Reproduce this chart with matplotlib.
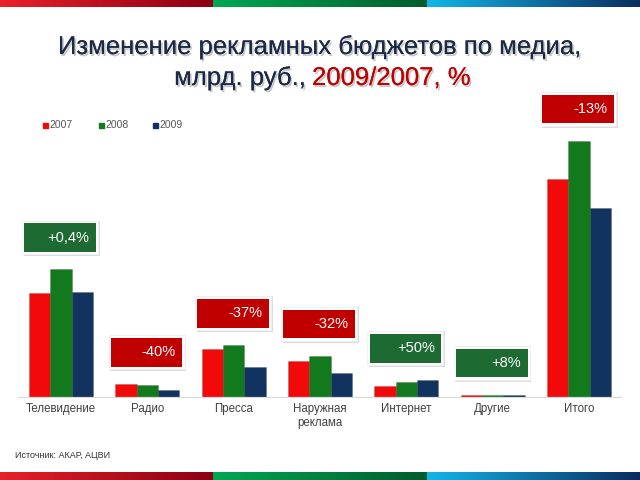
import matplotlib
matplotlib.use('Agg')
import matplotlib.pyplot as plt
import matplotlib.patheffects as pe
from matplotlib.patches import Rectangle
import numpy as np

plt.rcParams['font.family'] = ['Liberation Sans', 'DejaVu Sans']

# данные, млрд. руб.
categories = ['Телевидение', 'Радио', 'Пресса', 'Наружная\nреклама', 'Интернет', 'Другие', 'Итого']
years = ['2007', '2008', '2009']
v2007 = [120.5, 15.5, 55.4, 42.3, 13.2, 2.5, 251.3]
v2008 = [147.4, 14.4, 60.4, 48.1, 17.8, 3.2, 295.0]
v2009 = [121.0, 9.0, 34.6, 28.6, 20.0, 2.8, 217.5]
changes = ['+0,4%', '-40%', '-37%', '-32%', '+50%', '+8%', '-13%']

bar_colors = ['#f20a0a', '#127a1c', '#12335f']
box_red = '#c00000'
box_green = '#1d6a33'

fig = plt.figure(figsize=(6.4, 4.8), dpi=100)

# полосы сверху и снизу
def band(y0, h):
    segs = [('#e8202a', '#8a0012'), ('#00a852', '#005c2c'), ('#12b6ea', '#0b2b5c')]
    for i, (c1, c2) in enumerate(segs):
        bax = fig.add_axes([i / 3, y0, 1 / 3 + 0.002, h])
        grad = np.linspace(0, 1, 256).reshape(1, -1)
        cmap = matplotlib.colors.LinearSegmentedColormap.from_list('g', [c1, c2])
        bax.imshow(grad, aspect='auto', cmap=cmap, extent=[0, 1, 0, 1])
        bax.axis('off')

band(1 - 7 / 480, 7 / 480)
band(0, 8 / 480)

ax = fig.add_axes([18 / 640, 82.5 / 480, 604 / 640, 297.5 / 480])
x = np.arange(len(categories))
w = 0.247
for i, vals in enumerate([v2007, v2008, v2009]):
    ax.bar(x + (i - 1) * w, vals, w, color=bar_colors[i], edgecolor='#00000040', linewidth=0.4)

ax.axhline(0, color='#d9d9d9', lw=1.6)
ax.set_xlim(-0.5, 6.5)
ax.set_ylim(0, 342)
ax.set_yticks([])
ax.set_xticks(x)
ax.set_xticklabels(categories, fontsize=8.3, color='#404040', linespacing=1.25)
ax.tick_params(axis='x', length=0, pad=4)
for s in ax.spines.values():
    s.set_visible(False)

# плашки с изменениями
maxes = np.max([v2007, v2008, v2009], axis=0)
for xi, m, lab in zip(x, maxes, changes):
    col = box_green if lab.startswith('+') else box_red
    y0 = m + 20
    # тень и белая рамка
    ax.add_patch(Rectangle((xi - 0.43, y0 - 5), 0.88, 41, facecolor='#cfcfcf',
                           edgecolor='none', clip_on=False, zorder=2, alpha=0.7))
    ax.add_patch(Rectangle((xi - 0.45, y0 - 3), 0.88, 39, facecolor='white',
                           edgecolor='#eeeeee', lw=0.5, clip_on=False, zorder=2.5))
    ax.add_patch(Rectangle((xi - 0.425, y0), 0.83, 33, facecolor=col, edgecolor='none',
                           clip_on=False, zorder=3))
    ax.text(xi + 0.33, y0 + 16.5, lab, color='white', fontsize=10.5, ha='right', va='center',
            zorder=4, clip_on=False)

# заголовок
shadow = [pe.withSimplePatchShadow(offset=(1.2, -1.5), shadow_rgbFace='#000000', alpha=0.22), pe.Normal()]
fig.text(0.5, 1 - 47 / 480, 'Изменение рекламных бюджетов по медиа,', fontsize=18.5,
         color='#1c2a48', ha='center', va='center', path_effects=shadow)
fig.text(306 / 640, 1 - 78 / 480, 'млрд. руб.,', fontsize=18.5, color='#1c2a48',
         ha='right', va='center', path_effects=shadow)
fig.text(312 / 640, 1 - 78 / 480, '2009/2007, %', fontsize=18.5, color='#c00000',
         ha='left', va='center', path_effects=shadow)

# легенда
lx = [43, 99, 153]
for px, c, yr in zip(lx, bar_colors, years):
    fig.add_artist(Rectangle((px / 640, 1 - 128 / 480), 5 / 640, 5 / 480,
                             transform=fig.transFigure, color=c))
    fig.text((px + 6) / 640, 1 - 125.5 / 480, yr, fontsize=7.5, color='#555555', va='center')

fig.text(15 / 640, 1 - 455 / 480, 'Источник: АКАР, АЦВИ', fontsize=6.5, color='#333333', va='center')

fig.savefig('out.png', dpi=100)
